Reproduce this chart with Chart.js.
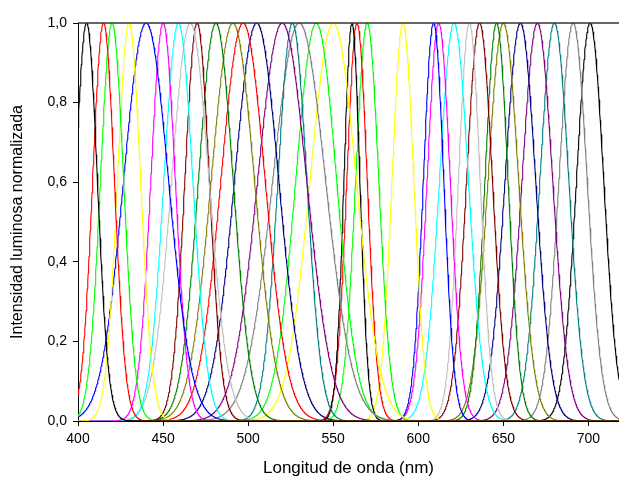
<!DOCTYPE html>
<html>
<head>
<meta charset="utf-8">
<script src="https://cdn.jsdelivr.net/npm/chart.js@4"></script>
<style>
  html, body { margin: 0; padding: 0; background: #fff; }
  #wrap { width: 619px; height: 486px; }
</style>
</head>
<body>
<div id="wrap"><canvas id="spectraChart"></canvas></div>
<script>
// peak wavelength (nm) and spectral width (sigma, nm) of each normalized spectrum
const peaks  = [405, 415, 420, 430, 440, 450, 459, 466, 470, 481, 491, 497, 505, 520, 526, 530, 540,
                550, 561, 564, 570, 591, 609, 612, 621, 630, 636, 646, 650, 660, 670, 680, 691, 701];
const sigmas = [6.4, 6.4, 6.8, 6.8, 13.2, 7.2, 8.5, 11, 7.2, 10.2, 12.7, 13, 13, 14.4, 8.5, 15.5, 12,
                13.6, 4.7, 6, 6.8, 6.4, 6, 6.8, 8.5, 6.4, 7.6, 6.8, 9, 9, 9, 8.5, 8.3, 8];
const colors = ["#000000", "#ff0000", "#00ff00", "#ffff00", "#0000ff", "#ff00ff", "#00ffff", "#c0c0c0",
                "#800000", "#008000", "#808000", "#ff0000", "#000080", "#800080", "#008080", "#808080",
                "#00ff00", "#ffff00", "#000000", "#ff0000", "#00ff00", "#ffff00", "#0000ff", "#ff00ff",
                "#00ffff", "#c0c0c0", "#800000", "#008000", "#808000", "#000080", "#800080", "#008080",
                "#808080", "#000000"];

const xTicks = [400, 450, 500, 550, 600, 650, 700];
const yTicks = [0, 0.2, 0.4, 0.6, 0.8, 1.0];

const wavelengths = [];
for (let w = 400; w <= 720; w += 0.25) wavelengths.push(w);

const datasets = peaks.map((p, i) => ({
  data: wavelengths.map(w => ({ x: w, y: Math.exp(-((w - p) * (w - p)) / (2 * sigmas[i] * sigmas[i])) })),
  borderColor: colors[i],
  borderWidth: 1.1,
  borderJoinStyle: "round",
  borderCapStyle: "round",
  pointRadius: 0,
  tension: 0,
  fill: false
}));

// top frame line of the plot
const topFrame = {
  id: "topFrame",
  afterDraw(chart) {
    const a = chart.chartArea, c = chart.ctx;
    c.save();
    c.strokeStyle = "#333";
    c.lineWidth = 1.5;
    c.beginPath();
    c.moveTo(a.left, a.top);
    c.lineTo(a.right, a.top);
    c.stroke();
    c.restore();
  }
};

Chart.defaults.font.family = "'Liberation Sans', Arial, sans-serif";
Chart.defaults.color = "#000";

new Chart(document.getElementById("spectraChart"), {
  type: "line",
  data: { datasets },
  options: {
    responsive: true,
    maintainAspectRatio: false,
    animation: false,
    events: [],
    layout: { padding: { top: 23, right: 0, left: 0, bottom: 0 } },
    plugins: { legend: { display: false }, tooltip: { enabled: false } },
    scales: {
      x: {
        type: "linear",
        min: 400,
        max: 718,
        afterFit: s => { s.height = 65; },
        afterBuildTicks: s => { s.ticks = xTicks.map(v => ({ value: v })); },
        ticks: { font: { size: 14 }, padding: 5, maxRotation: 0 },
        grid: { drawOnChartArea: false, drawTicks: true, tickLength: 5, color: "#000", tickWidth: 1 },
        border: { display: true, color: "#000", width: 1 },
        title: { display: true, text: "Longitud de onda (nm)", font: { size: 17 }, padding: { top: 0, bottom: 7 } }
      },
      y: {
        min: 0,
        max: 1,
        afterFit: s => { s.width = 78; },
        afterBuildTicks: s => { s.ticks = yTicks.map(v => ({ value: v })); },
        ticks: { font: { size: 14 }, padding: 6, callback: v => v.toFixed(1).replace(".", ",") },
        grid: { drawOnChartArea: false, drawTicks: true, tickLength: 5, color: "#000", tickWidth: 1 },
        border: { display: true, color: "#000", width: 1 },
        title: { display: true, text: "Intensidad luminosa normalizada", font: { size: 16 }, padding: { top: 8, bottom: 0 } }
      }
    }
  },
  plugins: [topFrame]
});
</script>
</body>
</html>
